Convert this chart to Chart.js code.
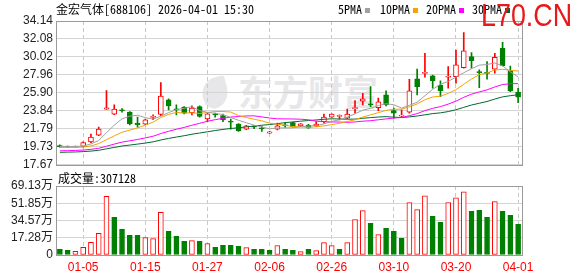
<!DOCTYPE html>
<html>
<head>
<meta charset="utf-8">
<script src="https://cdn.jsdelivr.net/npm/chart.js@4.4.1/dist/chart.umd.min.js"></script>
<style>
    html, body { margin: 0; padding: 0; background: #fff; }
    #wrap { position: relative; width: 578px; height: 276px; overflow: hidden;
            font-family: "Noto Sans Mono CJK SC", "Noto Sans CJK SC", sans-serif; font-size: 12px; color: #000; }
    canvas { position: absolute; left: 0; }
    #priceChart { top: 0; }
    #volChart { top: 170px; }
    .txt { position: absolute; white-space: nowrap; line-height: 12px; }
    .sw { display: inline-block; width: 5px; height: 5px; margin: 0 0 1px 3px; vertical-align: middle; }
    #wm { position: absolute; left: 238px; top: 71px; font-size: 35px; font-weight: bold; color: #e7e7ea;
          font-family: "Noto Sans CJK SC", sans-serif; letter-spacing: 0px; line-height: 40px; }
    #logo { position: absolute; left: 202px; top: 78px; width: 26px; height: 30px; border-radius: 60% 10% 60% 40%;
            background: #e7e7ea; transform: rotate(-15deg); }
    #site { position: absolute; left: 481px; top: -2px; font-family: "Liberation Sans", Arial, sans-serif;
            font-size: 32px; color: #e8191a; transform: scaleX(0.84); transform-origin: left top; line-height: 34px; }
</style>
</head>
<body>
<div id="wrap">
    <div id="logo"></div>
    <div id="wm">东方财富</div>
    <canvas id="priceChart" width="578" height="175"></canvas>
    <canvas id="volChart" width="578" height="106"></canvas>
    <div class="txt" style="left:56px; top:3px;">金宏气体[688106] 2026-04-01 15:30</div>
    <div class="txt" style="left:338px; top:3px;">5PMA<span class="sw" style="background:#a0a0a0"></span></div>
    <div class="txt" style="left:380px; top:3px;">10PMA<span class="sw" style="background:#f5a300"></span></div>
    <div class="txt" style="left:426px; top:3px;">20PMA<span class="sw" style="background:#ff00ff"></span></div>
    <div class="txt" style="left:472px; top:3px;">30PMA<span class="sw" style="background:#006a2e"></span></div>
    <div class="txt" style="left:58px; top:172px;">成交量:307128</div>
    <div id="site">L70.CN</div>
</div>
<script>
// --- Data ---
const dates = ['12-29','12-30','12-31','01-05','01-06','01-07','01-08','01-09','01-12','01-13',
    '01-14','01-15','01-16','01-19','01-20','01-21','01-22','01-23','01-26','01-27',
    '01-28','01-29','01-30','02-02','02-03','02-04','02-05','02-06','02-09','02-10',
    '02-11','02-12','02-13','02-24','02-25','02-26','02-27','03-02','03-03','03-04',
    '03-05','03-06','03-09','03-10','03-11','03-12','03-13','03-16','03-17','03-18',
    '03-19','03-20','03-23','03-24','03-25','03-26','03-27','03-30','03-31','04-01'];
const tickDates = ['01-05','01-15','01-27','02-06','02-26','03-10','03-20','04-01'];

const opens = [19.88,19.74,19.70,19.78,20.30,21.07,24.04,23.47,23.92,23.70,
    22.44,22.33,23.10,23.43,25.10,24.05,24.27,23.65,24.34,22.93,
    23.45,23.31,22.62,22.33,21.75,22.05,21.85,21.30,21.75,22.25,
    22.51,22.13,22.21,22.13,22.62,23.13,23.22,23.01,24.10,24.96,
    24.60,24.22,25.68,23.88,23.25,23.70,27.51,28.15,27.85,26.79,
    27.70,27.77,28.80,30.06,28.30,28.25,28.62,31.02,28.46,25.99];
const highs = [19.95,19.80,19.82,20.30,21.18,21.98,26.17,24.53,24.12,23.77,
    23.13,22.90,23.39,27.08,25.22,24.53,24.35,24.42,24.42,23.55,
    23.58,23.47,22.90,22.40,22.20,22.17,22.05,21.50,22.44,22.50,
    22.55,22.40,22.30,22.62,23.47,23.50,23.39,24.04,25.03,25.87,
    26.63,25.30,26.13,24.16,23.96,27.47,28.62,30.45,27.96,27.28,
    28.91,30.82,32.80,30.52,28.54,29.49,30.45,31.70,28.99,26.44];
const lows = [19.68,19.62,19.65,19.70,20.20,21.00,24.00,23.40,23.70,22.25,
    21.98,22.28,22.85,23.30,23.96,23.39,23.50,23.39,23.13,22.62,
    23.13,22.62,21.75,21.50,21.70,21.82,21.48,21.25,21.67,21.95,
    21.98,22.05,21.85,22.05,22.44,23.10,22.82,22.95,23.58,24.53,
    24.34,23.88,24.42,23.01,23.08,23.58,25.68,27.70,26.44,25.48,
    26.44,27.01,28.73,28.73,26.51,27.47,28.16,29.00,26.05,24.80];
const closes = [19.75,19.70,19.76,20.22,20.84,21.75,24.19,24.04,23.86,22.36,
    22.28,22.82,23.20,25.53,24.42,23.96,23.58,24.16,23.20,23.50,
    23.39,22.82,22.55,21.56,22.13,21.98,21.79,21.45,22.13,22.11,
    22.05,22.36,21.90,22.33,23.13,23.47,23.31,23.47,24.16,25.22,
    24.53,24.88,24.53,23.58,23.31,26.13,26.63,28.23,27.31,26.17,
    27.77,29.11,30.71,29.60,28.23,28.15,29.99,29.03,26.13,25.41];

// volume in 万 shares
const volumes = [5.7,4.7,3.7,7.7,12.7,21.7,58.7,37.7,25.7,19.7,
    19.7,17.4,16.4,42.7,23.7,18.7,13.7,14.4,13.7,11.4,
    7.7,9.7,9.7,8.7,7.4,5.7,5.7,4.7,9.4,5.7,
    4.7,3.4,5.7,4.4,12.4,9.4,5.7,12.4,35.4,44.4,
    31.7,20.4,26.7,23.7,16.7,52.4,45.4,59.4,38.7,32.7,
    52.4,57.4,63.4,43.7,44.7,37.7,53.4,43.7,39.7,30.7128];

// moving-average values before enough visible closes exist
const ma5Head = [19.78,19.77,19.76,19.82];
const ma10Head = [19.65,19.66,19.66,19.71,19.83,20.10,20.55,20.98,21.40];
const ma20Head = [19.27,19.29,19.31,19.36,19.44,19.56,19.80,20.04,20.27,20.42,
    20.57,20.75,20.94,21.25,21.51,21.74,21.95,22.20,22.42];
const ma30Head = [19.10,19.12,19.14,19.18,19.24,19.33,19.50,19.66,19.82,19.93,
    20.04,20.16,20.30,20.51,20.69,20.85,21.00,21.17,21.31,21.45,
    21.60,21.72,21.83,21.91,22.01,22.11,22.20,22.28,22.38];

const priceTickLabels = ['17.67','19.73','21.79','23.84','25.90','27.96','30.02','32.08','34.14'];
const volTickValues = [0, 17.28, 34.57, 51.85, 69.13];
const volTickLabels = ['0','17.28万','34.57万','51.85万','69.13万'];

// --- Helpers ---
const RED = '#ff0000';
const GREEN = '#008000';
const FONT = "'Liberation Sans', Arial, 'Noto Sans CJK SC', sans-serif";

function movingAvg(n, head) {
    return closes.map((c, i) => {
        if (i < n - 1) return head[i];
        let s = 0;
        for (let k = i - n + 1; k <= i; k++) s += closes[k];
        return s / n;
    });
}

const candleUp = closes.map((c, i) => c >= opens[i]);
const volUp = closes.map((c, i) => i === 0 ? c >= opens[0] : c >= closes[i - 1]);
const isTick = dates.map(d => tickDates.includes(d));

const frame = {
    id: 'frame',
    afterDatasetsDraw(chart) {
        const { ctx, chartArea: a } = chart;
        ctx.save();
        ctx.strokeStyle = '#9a9a9a';
        ctx.lineWidth = 1;
        ctx.strokeRect(Math.round(a.left) + 0.5, Math.round(a.top) + 0.5,
            Math.round(a.right) - Math.round(a.left), Math.round(a.bottom) - Math.round(a.top));
        ctx.restore();
    }
};

const xGrid = {
    offset: false,
    drawTicks: false,
    color: c => (c.index !== undefined && isTick[c.index]) ? '#c8c8c8' : 'rgba(0,0,0,0)'
};

// --- Price chart ---
const priceTicks = priceTickLabels.map(Number);
new Chart(document.getElementById('priceChart'), {
    type: 'bar',
    data: {
        labels: dates,
        datasets: [
            { type: 'line', data: movingAvg(5, ma5Head), borderColor: '#a0a0a0', borderWidth: 1, pointRadius: 0, order: 1 },
            { type: 'line', data: movingAvg(10, ma10Head), borderColor: '#f5a300', borderWidth: 1, pointRadius: 0, order: 1 },
            { type: 'line', data: movingAvg(20, ma20Head), borderColor: '#ff00ff', borderWidth: 1, pointRadius: 0, order: 1 },
            { type: 'line', data: movingAvg(30, ma30Head), borderColor: '#006a2e', borderWidth: 1, pointRadius: 0, order: 1 },
            {
                data: opens.map((o, i) => [o, closes[i]]),
                backgroundColor: candleUp.map(u => u ? '#ffffff' : GREEN),
                borderColor: candleUp.map(u => u ? RED : GREEN),
                borderWidth: 1, borderSkipped: false, barThickness: 5, minBarLength: 1,
                grouped: false, order: 2
            },
            {
                data: lows.map((l, i) => [l, highs[i]]),
                backgroundColor: candleUp.map(u => u ? RED : GREEN),
                borderWidth: 0, barThickness: 1, grouped: false, order: 3
            }
        ]
    },
    options: {
        responsive: false,
        animation: false,
        layout: { padding: { top: 21, right: 56, bottom: 10, left: 0 } },
        plugins: { legend: { display: false }, tooltip: { enabled: false } },
        scales: {
            x: {
                offset: true,
                ticks: { display: false, autoSkip: false },
                grid: xGrid,
                border: { display: false, dash: [4, 3] },
                afterFit: ax => { ax.height = 0; }
            },
            y: {
                min: priceTicks[0], max: priceTicks[priceTicks.length - 1],
                afterBuildTicks: ax => { ax.ticks = priceTicks.map(v => ({ value: v })); },
                afterFit: ax => { ax.width = 56; },
                ticks: {
                    autoSkip: false,
                    callback: (v, i) => priceTickLabels[i],
                    color: '#222', font: { family: FONT, size: 12 }, padding: 3
                },
                grid: { color: '#d4d4d4', drawTicks: false },
                border: { display: false }
            }
        }
    },
    plugins: [frame]
});

// --- Volume chart ---
new Chart(document.getElementById('volChart'), {
    type: 'bar',
    data: {
        labels: dates,
        datasets: [{
            data: volumes,
            backgroundColor: volUp.map(u => u ? '#ffffff' : GREEN),
            borderColor: volUp.map(u => u ? RED : GREEN),
            borderWidth: 1, borderSkipped: false, barThickness: 5
        }]
    },
    options: {
        responsive: false,
        animation: false,
        layout: { padding: { top: 16, right: 56, bottom: 0, left: 0 } },
        plugins: { legend: { display: false }, tooltip: { enabled: false } },
        scales: {
            x: {
                offset: true,
                ticks: {
                    autoSkip: false, maxRotation: 0, minRotation: 0, padding: 5,
                    color: RED, font: { family: FONT, size: 12 },
                    callback: (v, i) => isTick[i] ? dates[i] : ''
                },
                grid: xGrid,
                border: { display: false, dash: [4, 3] },
                afterFit: ax => { ax.height = 21; }
            },
            y: {
                min: 0, max: volTickValues[volTickValues.length - 1],
                afterBuildTicks: ax => { ax.ticks = volTickValues.map(v => ({ value: v })); },
                afterFit: ax => { ax.width = 56; },
                ticks: {
                    autoSkip: false,
                    callback: (v, i) => volTickLabels[i],
                    color: '#222', font: { family: FONT, size: 12 }, padding: 3
                },
                grid: { color: '#d4d4d4', drawTicks: false },
                border: { display: false }
            }
        }
    },
    plugins: [frame]
});
</script>
</body>
</html>
